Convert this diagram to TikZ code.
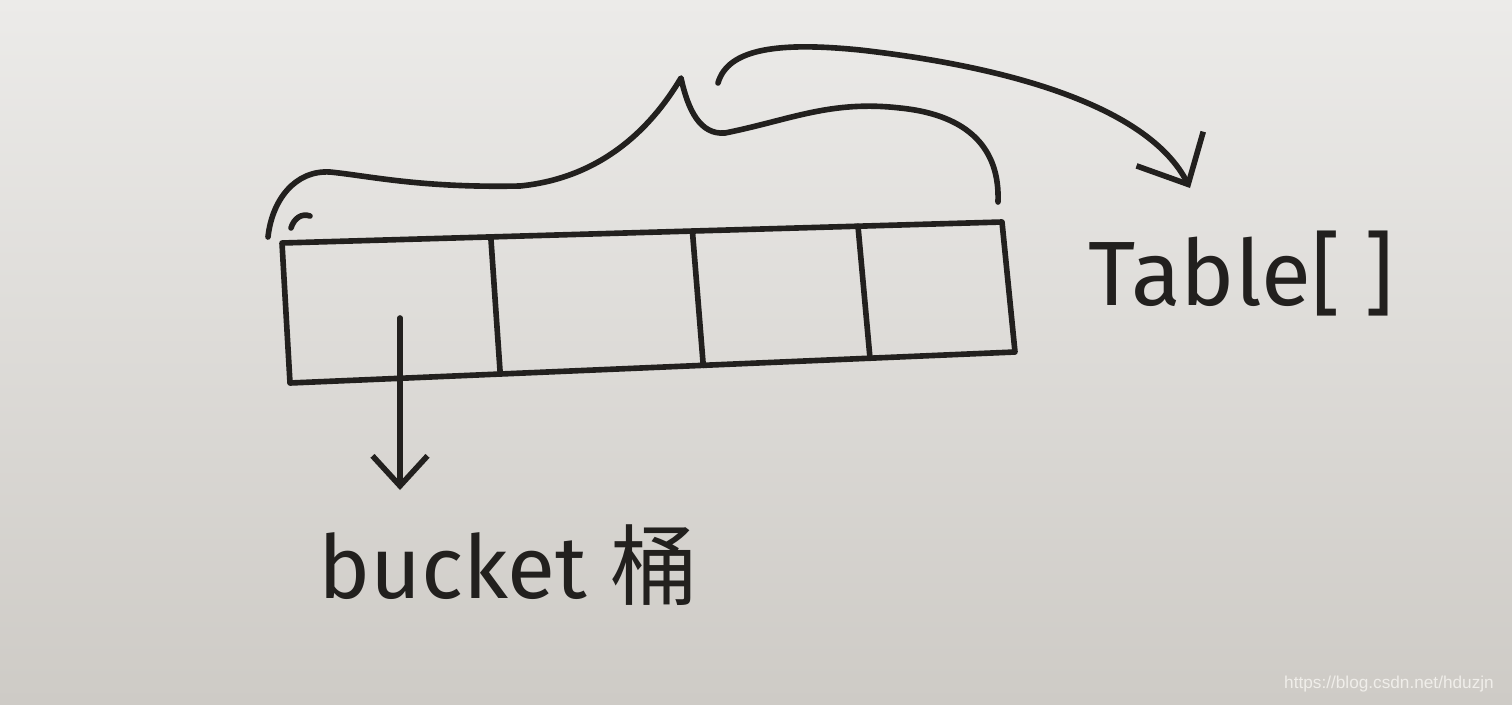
\documentclass[tikz,border=0pt]{standalone}
\usepackage{fontspec}
\setmainfont{Fira Sans}
\newfontfamily\cjk{Noto Sans CJK SC}
\newfontfamily\webfont{Liberation Sans}
\usepackage{tikz}
\usetikzlibrary{calc,arrows.meta}

\definecolor{ink}{RGB}{34,32,30}
\definecolor{paperTop}{RGB}{236,235,233}
\definecolor{paperLow}{RGB}{206,203,198}
\definecolor{markGray}{RGB}{240,238,234}

\tikzset{
  pen/.style={draw=ink, line width=3.2pt, line cap=round, line join=round},
  penArrow/.style={pen, -{Straight Barb[length=0.8cm,width=1.5cm,line width=3.2pt]}},
  smallArrow/.style={pen, -{Straight Barb[length=0.6cm,width=1.1cm,line width=3.2pt]}},
  hand/.style={text=ink, inner sep=0pt}
}

\begin{document}
\begin{tikzpicture}[x=0.02cm,y=-0.02cm]
  %% paper
  \shade[top color=paperTop, bottom color=paperLow] (0,0) rectangle (1512,704);
  \useasboundingbox (0,0) rectangle (1512,704);

  %% Building the table of buckets
  \coordinate (TL) at (282,243);
  \coordinate (TR) at (1002,222);
  \coordinate (BL) at (290,383);
  \coordinate (BR) at (1015,352);
  \draw[pen] (TL) -- (TR) -- (BR) -- (BL) -- cycle;
  \foreach \f [count=\i] in {0.29,0.57,0.80}
  {
    \draw[pen] ($(TL)!\f!(TR)$) -- ($(BL)!\f!(BR)$);
  }

  %% Brace over the whole table
  \draw[pen] (268,237) .. controls (272,200) and (295,170) .. (330,172)
    .. controls (370,176) and (420,188) .. (520,186)
    .. controls (600,178) and (650,130) .. (681,78)
    .. controls (688,110) and (700,135) .. (725,133)
    .. controls (790,120) and (830,100) .. (900,108)
    .. controls (970,115) and (1000,150) .. (998,202);
  \draw[pen] (291,228) .. controls (294,218) and (302,213) .. (310,216);

  %% Labels
  \node[hand, font=\fontsize{52}{60}\selectfont, anchor=base west] (TABLE) at (1088,305) {Table[ ]};
  \node[hand, font=\fontsize{50}{60}\selectfont, anchor=base west] (BUCKET) at (318,598) {bucket \cjk 桶};

  %% Arrows
  \coordinate (BRACE) at (718,83);
  \draw[penArrow] (BRACE) .. controls (728,48) and (780,42) .. (860,50)
    .. controls (1020,68) and (1150,110) .. (1190,188);
  \coordinate (CELL) at (400,318);
  \draw[smallArrow] (CELL) -- (CELL |- 0,490);

  %% watermark
  \node[text=markGray, font=\webfont\fontsize{9.8}{12}\selectfont, anchor=east] (MARK) at (1500,684) {https://blog.csdn.net/hduzjn};
\end{tikzpicture}
\end{document}
